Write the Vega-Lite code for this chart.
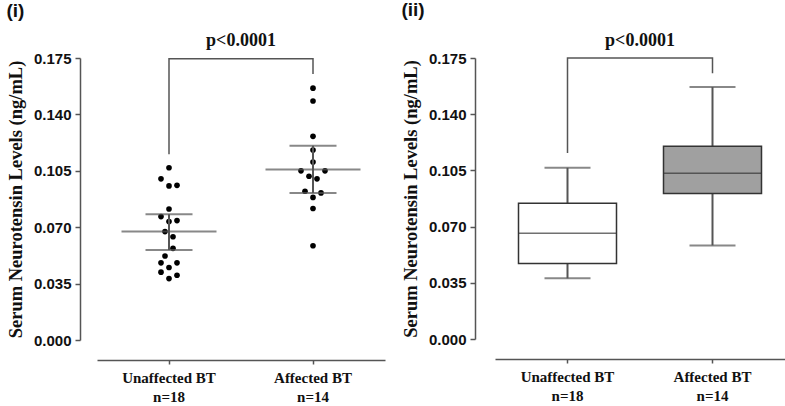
{
  "$schema": "https://vega.github.io/schema/vega-lite/v6.json",
  "padding": {"left": 6, "top": 0, "right": 0, "bottom": 0},
  "spacing": 16,
  "config": {
    "view": {"stroke": null},
    "axis": {
      "grid": false,
      "domainColor": "#555555",
      "domainWidth": 1.5,
      "tickColor": "#555555",
      "tickWidth": 1.5,
      "labelColor": "#111111",
      "titleColor": "#111111"
    },
    "axisY": {
      "labelFont": "Liberation Sans",
      "labelFontWeight": "bold",
      "labelFontSize": 15,
      "tickSize": 5,
      "labelPadding": 4,
      "titleFont": "Liberation Serif",
      "titleFontWeight": "bold",
      "titleFontSize": 18.5,
      "titlePadding": 8
    },
    "axisX": {
      "labelFont": "Liberation Serif",
      "labelFontWeight": "bold",
      "labelFontSize": 15,
      "labelAngle": 0,
      "tickSize": 4,
      "labelPadding": 6,
      "labelLineHeight": 19,
      "title": null,
      "offset": 20
    },
    "title": {
      "font": "Liberation Sans",
      "fontSize": 19,
      "fontWeight": "bold",
      "anchor": "start",
      "frame": "bounds",
      "color": "#111111"
    }
  },
  "datasets": {
    "dots": [
      {"group": "Unaffected BT", "value": 0.1069, "jitter": 0},
      {"group": "Unaffected BT", "value": 0.1000, "jitter": -2},
      {"group": "Unaffected BT", "value": 0.0956, "jitter": 0},
      {"group": "Unaffected BT", "value": 0.0960, "jitter": 2},
      {"group": "Unaffected BT", "value": 0.0813, "jitter": 0},
      {"group": "Unaffected BT", "value": 0.0766, "jitter": -2},
      {"group": "Unaffected BT", "value": 0.0735, "jitter": 0},
      {"group": "Unaffected BT", "value": 0.0741, "jitter": 2},
      {"group": "Unaffected BT", "value": 0.0673, "jitter": -1},
      {"group": "Unaffected BT", "value": 0.0641, "jitter": 1},
      {"group": "Unaffected BT", "value": 0.0569, "jitter": 1},
      {"group": "Unaffected BT", "value": 0.0521, "jitter": -1},
      {"group": "Unaffected BT", "value": 0.0479, "jitter": -2},
      {"group": "Unaffected BT", "value": 0.0479, "jitter": 2},
      {"group": "Unaffected BT", "value": 0.0450, "jitter": 0},
      {"group": "Unaffected BT", "value": 0.0421, "jitter": -2},
      {"group": "Unaffected BT", "value": 0.0402, "jitter": 2},
      {"group": "Unaffected BT", "value": 0.0381, "jitter": 0},
      {"group": "Affected BT", "value": 0.1563, "jitter": 0},
      {"group": "Affected BT", "value": 0.1483, "jitter": 0},
      {"group": "Affected BT", "value": 0.1264, "jitter": 0},
      {"group": "Affected BT", "value": 0.1179, "jitter": 0},
      {"group": "Affected BT", "value": 0.1104, "jitter": 0},
      {"group": "Affected BT", "value": 0.1050, "jitter": -3},
      {"group": "Affected BT", "value": 0.1050, "jitter": 3},
      {"group": "Affected BT", "value": 0.1016, "jitter": -1},
      {"group": "Affected BT", "value": 0.1000, "jitter": 1},
      {"group": "Affected BT", "value": 0.0923, "jitter": -2},
      {"group": "Affected BT", "value": 0.0913, "jitter": 2},
      {"group": "Affected BT", "value": 0.0885, "jitter": 0},
      {"group": "Affected BT", "value": 0.0816, "jitter": 0},
      {"group": "Affected BT", "value": 0.0585, "jitter": 0}
    ],
    "meanse": [
      {"group": "Unaffected BT", "mean": 0.0673, "lo": 0.0558, "hi": 0.0781},
      {"group": "Affected BT", "mean": 0.1058, "lo": 0.0912, "hi": 0.1206}
    ],
    "bracket1": [
      {"group": "Unaffected BT", "value": 0.1152, "step": 1},
      {"group": "Unaffected BT", "value": 0.1746, "step": 2},
      {"group": "Affected BT", "value": 0.1746, "step": 3},
      {"group": "Affected BT", "value": 0.165, "step": 4}
    ],
    "ptext1": [{"group": "Affected BT", "value": 0.1825, "label": "p<0.0001"}],
    "boxes": [
      {"group": "Unaffected BT", "min": 0.0378, "q1": 0.0470, "median": 0.0659, "q3": 0.0846, "max": 0.1066},
      {"group": "Affected BT", "min": 0.0583, "q1": 0.0906, "median": 0.1033, "q3": 0.1200, "max": 0.1569}
    ],
    "bracket2": [
      {"group": "Unaffected BT", "value": 0.1158, "step": 1},
      {"group": "Unaffected BT", "value": 0.175, "step": 2},
      {"group": "Affected BT", "value": 0.175, "step": 3},
      {"group": "Affected BT", "value": 0.1655, "step": 4}
    ],
    "ptext2": [{"group": "Affected BT", "value": 0.1824, "label": "p<0.0001"}]
  },
  "hconcat": [
    {
      "title": {"text": "(i)", "offset": 10.5},
      "width": 288,
      "height": 282,
      "encoding": {
        "x": {
          "field": "group",
          "type": "nominal",
          "sort": ["Unaffected BT", "Affected BT"],
          "scale": {"domain": ["Unaffected BT", "Affected BT"], "paddingInner": 0, "paddingOuter": 0},
          "axis": {"labelExpr": "datum.value == 'Unaffected BT' ? ['Unaffected BT', 'n=18'] : ['Affected BT', 'n=14']"}
        }
      },
      "layer": [
        {
          "data": {"name": "dots"},
          "mark": {"type": "point", "filled": true, "color": "#000000", "size": 32, "opacity": 1},
          "encoding": {
            "xOffset": {"field": "jitter", "type": "quantitative", "scale": {"domain": [-3, 3], "range": [60, 84]}},
            "y": {
              "field": "value",
              "type": "quantitative",
              "scale": {"domain": [0, 0.175], "nice": false},
              "axis": {"values": [0, 0.035, 0.07, 0.105, 0.14, 0.175], "format": ".3f", "offset": 17, "title": "Serum Neurotensin  Levels (ng/mL)"}
            }
          }
        },
        {
          "data": {"name": "meanse"},
          "mark": {"type": "tick", "color": "#555555", "size": 95, "thickness": 2},
          "encoding": {"y": {"field": "mean", "type": "quantitative"}}
        },
        {
          "data": {"name": "meanse"},
          "mark": {"type": "tick", "color": "#555555", "size": 47, "thickness": 2},
          "encoding": {"y": {"field": "lo", "type": "quantitative"}}
        },
        {
          "data": {"name": "meanse"},
          "mark": {"type": "tick", "color": "#555555", "size": 47, "thickness": 2},
          "encoding": {"y": {"field": "hi", "type": "quantitative"}}
        },
        {
          "data": {"name": "meanse"},
          "mark": {"type": "rule", "color": "#555555", "strokeWidth": 2},
          "encoding": {"y": {"field": "lo", "type": "quantitative"}, "y2": {"field": "hi"}}
        },
        {
          "data": {"name": "bracket1"},
          "mark": {"type": "line", "color": "#555555", "strokeWidth": 1.5, "interpolate": "linear"},
          "encoding": {
            "y": {"field": "value", "type": "quantitative"},
            "order": {"field": "step", "type": "quantitative"}
          }
        },
        {
          "data": {"name": "ptext1"},
          "mark": {"type": "text", "font": "Liberation Serif", "fontWeight": "bold", "fontSize": 18, "color": "#111111", "baseline": "alphabetic", "align": "center"},
          "encoding": {
            "x": {"field": "group", "type": "nominal", "bandPosition": 0},
            "y": {"field": "value", "type": "quantitative"},
            "text": {"field": "label"}
          }
        }
      ]
    },
    {
      "title": {"text": "(ii)", "offset": 12.5},
      "width": 290,
      "height": 281,
      "encoding": {
        "x": {
          "field": "group",
          "type": "nominal",
          "sort": ["Unaffected BT", "Affected BT"],
          "scale": {"domain": ["Unaffected BT", "Affected BT"], "paddingInner": 0, "paddingOuter": 0},
          "axis": {"labelExpr": "datum.value == 'Unaffected BT' ? ['Unaffected BT', 'n=18'] : ['Affected BT', 'n=14']"}
        }
      },
      "layer": [
        {
          "data": {"name": "boxes"},
          "mark": {"type": "rule", "color": "#555555", "strokeWidth": 2},
          "encoding": {
            "y": {
              "field": "min",
              "type": "quantitative",
              "scale": {"domain": [0, 0.175], "nice": false},
              "axis": {"values": [0, 0.035, 0.07, 0.105, 0.14, 0.175], "format": ".3f", "offset": 20, "title": "Serum Neurotensin  Levels (ng/mL)"}
            },
            "y2": {"field": "max"}
          }
        },
        {
          "data": {"name": "boxes"},
          "mark": {"type": "bar", "width": 98, "stroke": "#333333", "strokeWidth": 1.5},
          "encoding": {
            "y": {"field": "q1", "type": "quantitative"},
            "y2": {"field": "q3"},
            "fill": {"field": "group", "type": "nominal", "scale": {"domain": ["Unaffected BT", "Affected BT"], "range": ["#ffffff", "#a0a0a0"]}, "legend": null}
          }
        },
        {
          "data": {"name": "boxes"},
          "mark": {"type": "tick", "color": "#333333", "size": 98, "thickness": 1.5},
          "encoding": {"y": {"field": "median", "type": "quantitative"}}
        },
        {
          "data": {"name": "boxes"},
          "mark": {"type": "tick", "color": "#555555", "size": 46, "thickness": 2},
          "encoding": {"y": {"field": "min", "type": "quantitative"}}
        },
        {
          "data": {"name": "boxes"},
          "mark": {"type": "tick", "color": "#555555", "size": 46, "thickness": 2},
          "encoding": {"y": {"field": "max", "type": "quantitative"}}
        },
        {
          "data": {"name": "bracket2"},
          "mark": {"type": "line", "color": "#555555", "strokeWidth": 1.5, "interpolate": "linear"},
          "encoding": {
            "y": {"field": "value", "type": "quantitative"},
            "order": {"field": "step", "type": "quantitative"}
          }
        },
        {
          "data": {"name": "ptext2"},
          "mark": {"type": "text", "font": "Liberation Serif", "fontWeight": "bold", "fontSize": 18, "color": "#111111", "baseline": "alphabetic", "align": "center"},
          "encoding": {
            "x": {"field": "group", "type": "nominal", "bandPosition": 0},
            "y": {"field": "value", "type": "quantitative"},
            "text": {"field": "label"}
          }
        }
      ]
    }
  ]
}
